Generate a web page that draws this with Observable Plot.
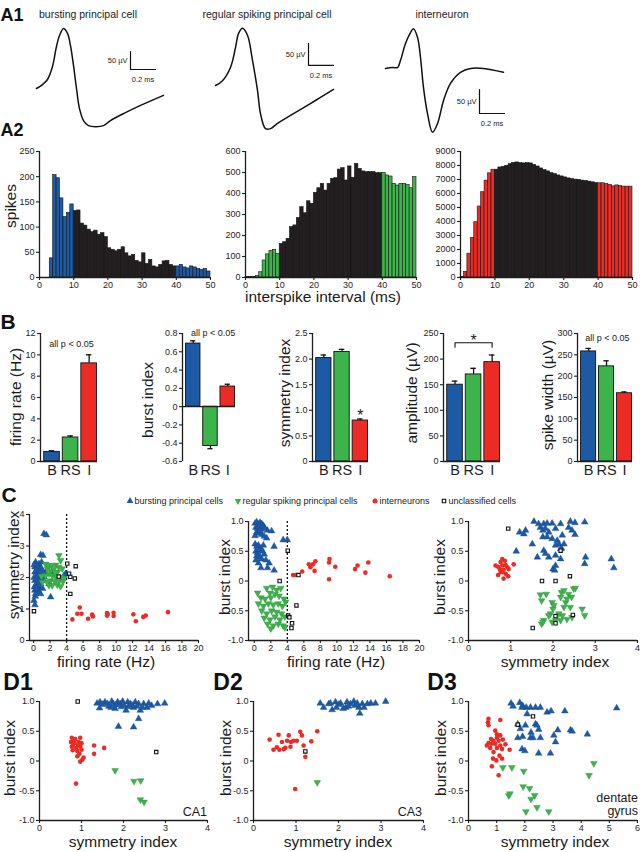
<!DOCTYPE html>
<html><head><meta charset="utf-8">
<script src="https://cdn.jsdelivr.net/npm/d3@7"></script>
<script src="https://cdn.jsdelivr.net/npm/@observablehq/plot@0.6"></script>
<style>
body{margin:0;background:#fff;}
#fig{position:relative;width:640px;height:852px;overflow:hidden;background:#fff;font-family:"Liberation Sans",Arial,Helvetica,sans-serif;}
#fig svg{position:absolute;}
</style></head>
<body><div id="fig"></div>
<script>
// ---------------- DATA ----------------
const cellTitles = ["bursting principal cell", "regular spiking principal cell", "interneuron"];
// waveforms: [time ms, voltage µV]
const waveBursting = [[0,0],[0.048,11],[0.088,25],[0.128,61],[0.16,117],[0.184,147],[0.216,167],[0.248,153],[0.272,119],[0.296,64],[0.32,0],[0.344,-56],[0.376,-89],[0.416,-103],[0.472,-106],[0.536,-103],[0.592,-89],[0.712,-67],[0.832,-47],[1.016,-19]];
const waveRegular = [[0,0],[0.056,11],[0.12,41],[0.16,86],[0.184,118],[0.216,130],[0.256,114],[0.296,57],[0.336,-11],[0.36,-64],[0.4,-98],[0.44,-98],[0.496,-86],[0.6,-68],[0.736,-45],[0.84,-27],[0.944,-9]];
const waveInter = [[0,0],[0.056,2],[0.096,2],[0.12,17],[0.16,52],[0.2,75],[0.224,83],[0.256,65],[0.28,23],[0.304,-40],[0.336,-94],[0.376,-133],[0.416,-115],[0.464,-67],[0.52,-31],[0.6,-8],[0.68,0],[0.784,0],[0.944,-8]];
const scaleBarLabels = ["50 µV", "0.2 ms"];

// ISI histograms, 1-ms bins from 0 to 50 ms
const isiTicks = [0,10,20,30,40,50];
const histBursting = [0,0,0,38,203,197,157,120,128,145, 132,133,107,103,95,90,93,85,88,80, 58,55,52,55,60,48,42,45,33,30, 48,27,35,22,20,25,32,33,25,22, 22,25,20,18,22,20,17,15,17,12];
const histRegular = [3,3,3,8,25,81,110,127,132,113, 160,168,184,240,248,283,335,306,363,351, 403,425,446,414,446,470,473,514,521,462, 529,475,541,517,505,502,502,502,497,497, 498,486,481,446,438,446,446,441,425,478];
const histInter = [50,400,1700,2820,3950,5070,6090,6920,7440,7700, 7700,7860,7910,7980,8100,8190,8220,8170,8150,8170, 8150,8050,7930,7790,7670,7580,7460,7390,7290,7220, 7150,7080,7030,6990,6960,6920,6890,6850,6800,6750, 6730,6730,6680,6610,6510,6580,6540,6490,6490,6490];

// B: group means and SEM
const groups = ["B", "RS", "I"];
const firingRate = [0.9, 2.25, 9.2],      firingRateErr = [0.1, 0.15, 0.8];
const burstIndex = [0.69, -0.43, 0.22],   burstIndexErr = [0.03, 0.03, 0.025];
const symmetryIdx = [2.02, 2.14, 0.8],    symmetryIdxErr = [0.06, 0.05, 0.03];
const amplitude = [150, 170, 194],        amplitudeErr = [7, 12, 14];
const spikeWidth = [258, 223, 160],       spikeWidthErr = [7, 13, 3];

// C: scatter [x, y]
const legendLabels = ["bursting principal cells", "regular spiking principal cells", "interneurons", "unclassified cells"];
const c1Bursting = [[1.25,3.39],[1.54,3.35],[0.85,2.72],[1.13,2.7],[0.24,2.49],[0.65,2.43],[0.16,2.33],[0.44,2.28],[0.85,2.33],[1.05,2.22],[0.16,2.17],[0.57,2.12],[0.85,2.06],[0.32,2.01],[0.65,1.96],[1.25,2.01],[0.16,1.9],[0.44,1.83],[0.85,1.8],[0.24,1.75],[0.65,1.69],[0.16,1.59],[0.57,1.53],[0.24,1.48],[0.85,1.48],[0.04,1.27],[0.16,1.13],[2.06,1.38],[1.86,1.8],[1.66,2.28],[2.46,2.17],[3.88,2.12],[3.68,2.06],[1.05,1.9],[1.45,2.12],[0.36,2.4],[0.97,2.49],[0.05,2.0],[0.1,1.7],[0.5,1.62],[0.3,2.2],[0.7,2.2],[0.05,2.4],[0.4,1.95],[0.9,2.15],[0.2,1.4],[0.6,1.75],[1.1,1.65],[0.3,1.65]];
const c1Regular = [[3.07,2.7],[1.45,2.43],[1.78,2.38],[2.18,2.38],[2.67,2.4],[3.07,2.33],[3.27,2.54],[1.66,2.28],[2.06,2.22],[2.46,2.28],[2.87,2.17],[3.47,2.28],[1.86,2.12],[2.26,2.06],[2.67,2.01],[3.27,2.01],[3.68,1.98],[1.45,2.06],[2.06,1.9],[2.59,1.87],[3.07,1.9],[3.56,1.87],[1.86,1.75],[2.26,1.75],[2.87,1.77],[3.27,1.72],[1.66,1.87],[0.97,2.04],[1.05,1.85],[2.59,2.17]];
const c1Inter = [[4.7,0.67],[5.3,0.85],[5.6,1.05],[5.8,0.85],[6.6,0.69],[7.1,0.82],[7.2,0.76],[8.9,0.87],[8.9,0.79],[9.0,0.84],[9.7,0.88],[9.7,0.78],[12.1,0.83],[12.4,0.61],[13.3,0.75],[13.6,0.79],[16.3,0.9]];
const c1Uncl = [[0.04,0.93],[4.08,2.44],[5.1,2.36],[3.05,2.03],[4.3,2.12],[4.45,2.02],[5.0,1.97],[4.45,1.48]];

const c2Bursting = [[0.1,0.97],[0.3,0.99],[0.5,0.95],[0.7,0.98],[0.9,0.96],[1.1,0.93],[0.2,0.9],[0.4,0.88],[0.6,0.92],[0.8,0.87],[1.0,0.9],[1.3,0.88],[1.6,0.85],[2.1,0.84],[0.3,0.82],[0.5,0.8],[0.9,0.78],[1.2,0.75],[0.1,0.76],[0.7,0.84],[1.5,0.72],[3.5,0.69],[4.0,0.69],[2.4,0.58],[0.1,0.62],[0.3,0.58],[0.5,0.6],[0.8,0.55],[0.2,0.5],[0.4,0.47],[0.6,0.52],[1.0,0.5],[1.2,0.45],[0.3,0.42],[0.7,0.4],[0.9,0.37],[1.4,0.35],[0.5,0.3],[1.8,0.3],[0.8,0.22],[1.6,0.22],[2.4,0.18],[0.2,0.35],[1.1,0.6]];
const c2Regular = [[0.4,-0.2],[1.5,-0.12],[2.2,-0.1],[2.7,-0.15],[3.2,-0.12],[1.9,-0.2],[2.5,-0.22],[0.8,-0.28],[1.3,-0.3],[2.0,-0.28],[3.0,-0.25],[3.6,-0.3],[0.5,-0.38],[1.1,-0.42],[1.7,-0.38],[2.3,-0.4],[2.9,-0.38],[3.4,-0.42],[3.8,-0.35],[0.9,-0.5],[1.5,-0.55],[2.1,-0.5],[2.7,-0.52],[3.3,-0.55],[1.2,-0.62],[1.9,-0.65],[2.5,-0.6],[3.1,-0.65],[3.7,-0.6],[1.6,-0.72],[2.3,-0.75],[2.9,-0.72],[3.5,-0.75],[2.0,-0.8],[3.7,-0.78]];
const c2Inter = [[4.7,0.10],[5.0,0.10],[5.8,0.16],[6.6,0.28],[7.1,0.28],[7.4,0.33],[6.8,0.23],[7.3,0.17],[9.1,0.37],[9.05,0.31],[9.8,0.24],[9.05,0.03],[12.2,0.2],[12.5,0.26],[13.45,0.14],[13.8,0.31],[16.4,0.08]];
const c2Uncl = [[4.05,0.51],[3.07,0.0],[5.35,0.1],[5.1,-0.41],[4.1,-0.58],[4.25,-0.61],[4.57,-0.71],[4.5,-0.79]];

const c3Bursting = [[1.55,1.0],[1.66,0.96],[1.78,0.96],[1.86,0.97],[1.98,0.97],[2.18,0.96],[2.41,1.0],[2.52,0.98],[2.75,0.99],[1.21,0.82],[1.35,0.85],[1.31,0.79],[1.7,0.9],[1.76,0.85],[1.82,0.88],[1.76,0.74],[1.86,0.74],[2.06,0.88],[1.98,0.71],[2.1,0.68],[2.14,0.62],[2.26,0.62],[2.2,0.55],[2.37,0.9],[2.45,0.85],[2.52,0.78],[1.51,0.62],[1.13,0.5],[1.63,0.4],[1.78,0.51],[1.82,0.46],[1.9,0.4],[2.06,0.43],[2.18,0.37],[2.0,0.2],[2.06,0.26],[2.04,0.18],[2.77,0.4],[2.75,0.29],[3.38,0.37],[3.44,0.22],[1.9,0.82],[2.22,0.77],[2.06,0.6],[2.18,0.54]];
const c3Regular = [[1.7,-0.23],[1.84,-0.22],[1.73,-0.33],[1.98,-0.36],[2.02,-0.41],[2.0,-0.47],[1.94,-0.55],[1.9,-0.58],[1.78,-0.66],[1.73,-0.72],[1.76,-0.69],[1.98,-0.69],[2.06,-0.66],[2.18,-0.66],[2.22,-0.58],[2.33,-0.64],[2.45,-0.61],[2.14,-0.55],[2.26,-0.44],[2.41,-0.44],[2.3,-0.36],[2.2,-0.19],[2.26,-0.16],[2.37,-0.22],[2.44,-0.27],[2.49,-0.13],[2.53,-0.12],[2.33,-0.3],[2.18,-0.27],[2.69,-0.47],[2.75,-0.58]];
const c3Inter = [[0.8,0.37],[0.76,0.32],[0.86,0.34],[0.64,0.26],[0.7,0.24],[0.8,0.26],[0.88,0.27],[0.92,0.23],[0.74,0.2],[0.83,0.19],[0.95,0.2],[1.07,0.28],[0.7,0.1],[0.83,0.04],[0.94,0.08],[0.8,0.15],[0.88,0.12],[0.76,0.15]];
const c3Uncl = [[0.94,0.88],[2.18,0.51],[1.74,0.0],[2.06,0.0],[2.4,0.08],[2.06,-0.59],[2.47,-0.57],[2.06,-0.71],[1.52,-0.79]];

// D: symmetry index vs burst index per region
const regionLabels = ["CA1", "CA3", "dentate\ngyrus"];
const d1Bursting = [[1.37,0.97],[1.44,0.99],[1.43,0.89],[1.56,0.99],[1.62,0.96],[1.72,1.0],[1.76,0.96],[1.8,0.88],[1.86,0.99],[1.92,0.96],[1.98,1.0],[2.02,0.93],[2.06,0.85],[2.1,0.99],[2.16,0.96],[2.24,0.9],[2.28,0.99],[2.36,0.96],[2.4,0.85],[2.48,0.96],[2.56,0.9],[2.67,0.93],[2.81,0.96],[2.98,0.97],[1.88,0.58],[2.24,0.57],[2.36,0.71],[1.65,0.92],[1.95,0.91],[2.2,0.94],[2.32,0.92],[1.5,0.95],[2.12,0.91],[1.7,0.9],[2.45,0.9],[2.6,0.97],[1.82,0.94]];
const d1Regular = [[1.8,-0.16],[2.25,-0.34],[2.41,-0.33],[2.4,-0.65],[2.49,-0.69]];
const d1Inter = [[0.77,0.39],[0.85,0.37],[0.97,0.39],[0.75,0.32],[0.83,0.3],[0.93,0.32],[0.77,0.24],[0.87,0.22],[0.97,0.24],[0.79,0.18],[0.9,0.17],[1.0,0.19],[0.9,0.08],[1.05,0.06],[0.97,-0.01],[1.02,0.02],[1.3,0.26],[1.3,0.12],[1.54,0.22],[0.87,-0.38],[0.8,0.28],[0.92,0.27],[0.82,0.35],[0.95,0.12],[1.0,0.3]];
const d1Uncl = [[0.91,1.0],[2.78,0.15]];

const d2Bursting = [[1.57,0.97],[1.77,0.96],[1.85,0.86],[1.93,0.99],[2.01,0.95],[2.11,0.88],[2.2,0.99],[2.28,0.96],[2.36,1.0],[2.48,0.9],[2.5,0.8],[2.56,0.96],[2.68,0.96],[2.87,0.97],[3.11,1.0],[1.65,0.9],[1.81,0.97],[2.05,0.97],[2.17,0.9],[2.39,0.93],[2.6,0.9],[2.76,0.97],[2.24,0.92],[1.95,0.9],[2.44,0.97]];
const d2Regular = [[1.5,-0.36]];
const d2Inter = [[0.38,0.36],[0.59,0.44],[0.83,0.43],[0.79,0.34],[0.67,0.32],[0.88,0.32],[0.94,0.34],[0.47,0.19],[0.61,0.19],[0.75,0.22],[0.87,0.24],[1.02,0.34],[1.1,0.49],[1.14,0.43],[1.18,0.26],[1.22,0.07],[1.36,0.33],[1.5,0.5],[0.98,-0.47],[0.71,0.2],[0.55,0.23]];
const d2Uncl = [[1.22,0.16]];

const d3Bursting = [[1.51,0.97],[1.82,0.98],[1.58,0.92],[1.92,0.93],[2.05,0.9],[2.2,0.9],[2.38,0.9],[2.55,0.9],[2.79,0.82],[2.93,0.84],[3.42,0.84],[5.26,0.89],[1.75,0.62],[1.84,0.54],[2.02,0.6],[2.38,0.62],[2.49,0.53],[1.75,0.39],[1.92,0.41],[2.2,0.39],[2.29,0.39],[2.55,0.39],[3.03,0.43],[3.17,0.52],[3.09,0.32],[3.62,0.52],[3.68,0.5],[4.22,0.45],[1.9,0.2],[2.0,0.17],[2.49,0.13],[2.91,0.13],[2.22,0.48],[1.9,0.9],[2.08,0.79],[2.43,0.6]];
const d3Regular = [[1.22,-0.11],[1.54,-0.11],[1.96,-0.17],[1.94,-0.43],[2.17,-0.46],[2.35,-0.58],[2.22,-0.64],[1.43,-0.58],[1.47,-0.55],[2.43,-0.78],[2.04,-0.85],[2.85,-0.85],[4.45,-0.04],[4.28,-0.24]];
const d3Inter = [[0.71,0.71],[0.69,0.65],[0.71,0.6],[1.13,0.69],[0.95,0.51],[1.01,0.45],[1.13,0.43],[0.8,0.37],[0.89,0.34],[1.07,0.34],[1.22,0.36],[0.71,0.3],[0.83,0.29],[0.95,0.29],[1.13,0.26],[1.31,0.28],[0.77,0.22],[1.01,0.22],[1.19,0.2],[1.46,0.19],[0.89,0.15],[1.1,0.09],[1.19,0.04],[0.87,0.04],[0.99,0.01],[0.83,-0.09],[1.07,-0.24],[0.65,0.26],[1.01,0.39]];
const d3Uncl = [[1.75,0.61],[2.29,0.75]];

// ---------------- STYLE / HELPERS ----------------
const FONT = '"Liberation Sans", Arial, Helvetica, sans-serif';
const BLUE = "#1d5aa6", GREEN = "#3cb44b", RED = "#ec2b25", BLACK = "#231f20", INK = "#1e1e1e";
const fig = document.getElementById("fig");
const baseStyle = {background: "transparent", overflow: "visible", fontFamily: FONT, color: INK};

function put(el, left, top) { el.style.left = left + "px"; el.style.top = top + "px"; fig.appendChild(el); }
function label(str, cx, cy, size, o = {}) {
  const d = document.createElement("div");
  d.textContent = str;
  const tx = o.anchor === "start" ? "0" : o.anchor === "end" ? "-100%" : "-50%";
  d.style.cssText = `position:absolute;left:${cx}px;top:${cy}px;font:${o.bold ? "bold " : ""}${size}px ${FONT};line-height:1;white-space:pre;text-align:${o.align||"center"};color:${o.color || "#1a1a1a"};transform:translate(${tx},-50%) rotate(${o.rotate || 0}deg);`;
  fig.appendChild(d);
}
const fmt1 = d => d === 0 ? "0" : d.toFixed(1);
const fmtInt = d => String(d);
const axisStyle = {tickSize: 3, fontSize: 9, label: null, strokeWidth: 1.1};

// ---------------- A1: waveforms ----------------
function wave(pts, o) {
  const w = 140, h = o.h;
  const p = Plot.plot({
    width: w, height: h, margin: 0, style: baseStyle,
    x: {domain: [o.t0, o.t0 + w / 125], axis: null}, y: {domain: [o.vb, o.vt], axis: null},
    marks: [
      Plot.line(pts, {x: d => d[0], y: d => d[1], stroke: "#111", strokeWidth: 1.5, curve: "catmull-rom"}),
      Plot.line([[o.bar[0], o.bar[1] + 50], [o.bar[0], o.bar[1]], [o.bar[0] + 0.2, o.bar[1]]], {x: d => d[0], y: d => d[1], stroke: "#111", strokeWidth: 1.2}),
      Plot.text([scaleBarLabels[0]], {x: o.bar[0], y: o.bar[1] + 25, text: d => d, textAnchor: "end", dx: -3, fontSize: 7.5, fill: "#222"}),
      Plot.text([scaleBarLabels[1]], {x: o.bar[0] + 0.1, y: o.bar[1], text: d => d, dy: 10, fontSize: 7.5, fill: "#222"})
    ]
  });
  put(p, o.left, o.top);
}
wave(waveBursting, {left: 30, top: 24, h: 108, t0: -0.048, vt: 177.8, vb: -122.2, bar: [0.752, 52.8]});
wave(waveRegular, {left: 205, top: 24, h: 108, t0: -0.08, vt: 138.6, vb: -106.8, bar: [0.744, 45.5]});
wave(waveInter, {left: 375, top: 24, h: 110, t0: -0.08, vt: 91.7, vb: -137.5, bar: [0.752, -93.75]});
label(cellTitles[0], 88, 14, 10.5, {color: "#222"});
label(cellTitles[1], 267, 14, 10.5, {color: "#222"});
label(cellTitles[2], 442, 14, 10.5, {color: "#222"});

// ---------------- A2: histograms ----------------
function hist(values, color, o) {
  const ml = 30, mr = 6, mt = 6, mb = 16;
  const data = values.map((v, i) => ({x1: i, x2: i + 1, v, c: (i < 10 || i >= 40) ? color : BLACK}));
  const p = Plot.plot({
    width: o.w + ml + mr, height: o.h + mt + mb, marginLeft: ml, marginRight: mr, marginTop: mt, marginBottom: mb,
    style: baseStyle, x: {domain: [0, 50]}, y: {domain: [0, o.ymax]}, color: {type: "identity"},
    marks: [
      Plot.rectY(data, {x1: "x1", x2: "x2", y: "v", fill: "c", stroke: "#151515", strokeWidth: 0.6}),
      Plot.ruleX([0], {stroke: INK, strokeWidth: 1.3}),
      Plot.ruleY([0], {stroke: INK, strokeWidth: 1.3}),
      Plot.axisX({...axisStyle, ticks: isiTicks, tickFormat: fmtInt, tickPadding: 1}),
      Plot.axisY({...axisStyle, ticks: o.yticks, tickFormat: fmtInt, tickPadding: 2})
    ]
  });
  put(p, o.left - ml, o.top - mt);
}
hist(histBursting, BLUE, {left: 39, top: 151, w: 171, h: 126, ymax: 250, yticks: d3.range(0, 251, 50)});
hist(histRegular, GREEN, {left: 245, top: 151, w: 171, h: 126, ymax: 600, yticks: d3.range(0, 601, 100)});
hist(histInter, RED, {left: 460, top: 151, w: 172, h: 126, ymax: 9000, yticks: d3.range(0, 9001, 1000)});
label("spikes", 11, 206, 15.5, {rotate: -90});
label("interspike interval (ms)", 323, 297, 15.5);

// ---------------- B: bar charts ----------------
function bars(vals, errs, o) {
  const ml = 30, mr = 4, mt = 8, mb = 24;
  const data = groups.map((g, i) => ({i, v: vals[i], e: vals[i] + Math.sign(vals[i]) * errs[i], c: [BLUE, GREEN, RED][i]}));
  const marks = [
    Plot.ruleX(data, {x: "i", y1: "v", y2: "e", stroke: "#111", strokeWidth: 1.3}),
    Plot.ruleY(data, {y: "e", x1: d => d.i - 0.15, x2: d => d.i + 0.15, stroke: "#111", strokeWidth: 1.3}),
    Plot.rectY(data, {x1: d => d.i - 0.42, x2: d => d.i + 0.42, y1: 0, y2: "v", fill: "c", stroke: "#111", strokeWidth: 0.9}),
    Plot.ruleX([-0.62], {stroke: INK, strokeWidth: 1.3}),
    Plot.ruleY([0], {stroke: INK, strokeWidth: 1.3}),
    Plot.axisY({...axisStyle, ticks: o.yticks, tickFormat: o.yfmt, tickPadding: 2}),
    Plot.axisX({ticks: [0, 1, 2], tickFormat: i => groups[i], tickSize: 0, tickPadding: 3, fontSize: 14.5, label: null})
  ];
  if (o.extra) marks.push(...o.extra);
  const p = Plot.plot({
    width: o.w + ml + mr, height: o.h + mt + mb, marginLeft: ml, marginRight: mr, marginTop: mt, marginBottom: mb,
    style: baseStyle, color: {type: "identity"},
    x: {domain: [-0.62, 2.45]}, y: {domain: o.ydom},
    marks
  });
  put(p, o.left - ml, o.top - mt);
}
const sigText = ["all p < 0.05", "*"];
const ampBracket = [[0, 223], [0, 232], [2, 232], [2, 223]];
bars(firingRate, firingRateErr, {left: 40, top: 333, w: 57, h: 128, ydom: [0, 12], yticks: d3.range(0, 13, 2), yfmt: fmtInt,
  extra: [Plot.text([sigText[0]], {x: 1.05, y: 11, text: d => d, fontSize: 9, fill: "#222"})]});
bars(burstIndex, burstIndexErr, {left: 182, top: 333, w: 53, h: 128, ydom: [-0.6, 0.8], yticks: [-0.6,-0.4,-0.2,0,0.2,0.4,0.6,0.8], yfmt: fmt1,
  extra: [Plot.text([sigText[0]], {x: 1.15, y: 0.8, text: d => d, fontSize: 9, fill: "#222"})]});
bars(symmetryIdx, symmetryIdxErr, {left: 312, top: 333, w: 56, h: 128, ydom: [0, 2.5], yticks: [0,0.5,1,1.5,2,2.5], yfmt: fmt1,
  extra: [Plot.text([sigText[1]], {x: 2, y: 0.9, text: d => d, fontSize: 16, fill: "#222"})]});
bars(amplitude, amplitudeErr, {left: 443, top: 333, w: 57, h: 128, ydom: [0, 250], yticks: d3.range(0, 251, 50), yfmt: fmtInt,
  extra: [Plot.line(ampBracket, {x: d => d[0], y: d => d[1], stroke: "#111", strokeWidth: 1.1}),
          Plot.text([sigText[1]], {x: 1, y: 236, text: d => d, fontSize: 16, fill: "#222"})]});
bars(spikeWidth, spikeWidthErr, {left: 577, top: 333, w: 55, h: 128, ydom: [0, 300], yticks: d3.range(0, 301, 50), yfmt: fmtInt,
  extra: [Plot.text([sigText[0]], {x: 1.05, y: 290, text: d => d, fontSize: 9, fill: "#222"})]});
label("firing rate (Hz)", 16, 397, 15.5, {rotate: -90});
label("burst index", 148, 400, 15.5, {rotate: -90});
label("symmetry index", 285, 393, 15.5, {rotate: -90});
label("amplitude (µV)", 412, 393, 15.5, {rotate: -90});
label("spike width (µV)", 548, 395, 15.5, {rotate: -90});

// ---------------- C & D: scatter plots ----------------
function scatter(sets, o) {
  const ml = 30, mr = 6, mt = 6, mb = 18;
  const xy = {x: d => d[0], y: d => d[1]};
  const marks = [];
  if (o.dashX != null) marks.push(Plot.ruleX([o.dashX], {stroke: "#111", strokeWidth: 1.3, strokeDasharray: "2,2"}));
  marks.push(
    Plot.dot(sets[0], {...xy, symbol: "triangle", r: 2.5, fill: BLUE, stroke: "#174a8a", strokeWidth: 0.4}),
    Plot.dot(sets[1], {...xy, symbol: "triangle", rotate: 180, r: 2.5, fill: GREEN, stroke: "#2e8f3b", strokeWidth: 0.4}),
    Plot.dot(sets[2], {...xy, symbol: "circle", r: 2.3, fill: RED, stroke: "none"}),
    Plot.dot(sets[3], {...xy, symbol: "square", r: 1.9, fill: "#fff", stroke: "#111", strokeWidth: 1.1}),
    Plot.ruleX([o.xdom[0]], {stroke: INK, strokeWidth: 1.3}),
    Plot.ruleY([o.ydom[0]], {stroke: INK, strokeWidth: 1.3}),
    Plot.axisX({...axisStyle, ticks: o.xticks, tickFormat: fmtInt, tickPadding: 1}),
    Plot.axisY({...axisStyle, ticks: o.yticks, tickFormat: o.yfmt, tickPadding: 2})
  );
  const p = Plot.plot({
    width: o.w + ml + mr, height: o.h + mt + mb, marginLeft: ml, marginRight: mr, marginTop: mt, marginBottom: mb,
    style: baseStyle, x: {domain: o.xdom}, y: {domain: o.ydom}, marks
  });
  put(p, o.left - ml, o.top - mt);
}
const biTicks = [-1, -0.5, 0, 0.5, 1];
scatter([c1Bursting, c1Regular, c1Inter, c1Uncl], {left: 29, top: 514, w: 169, h: 126, xdom: [-0.5, 20], ydom: [0, 4], xticks: d3.range(0, 21, 2), yticks: [0,1,2,3,4], yfmt: fmtInt, dashX: 4});
scatter([c2Bursting, c2Regular, c2Inter, c2Uncl], {left: 248, top: 521, w: 171, h: 119, xdom: [-0.7, 20], ydom: [-1, 1], xticks: d3.range(0, 21, 2), yticks: biTicks, yfmt: fmt1, dashX: 4});
scatter([c3Bursting, c3Regular, c3Inter, c3Uncl], {left: 468, top: 521, w: 169, h: 119, xdom: [0, 4], ydom: [-1, 1], xticks: [0,1,2,3,4], yticks: biTicks, yfmt: fmt1});
scatter([d1Bursting, d1Regular, d1Inter, d1Uncl], {left: 39, top: 701, w: 168, h: 119, xdom: [0, 4], ydom: [-1, 1], xticks: [0,1,2,3,4], yticks: biTicks, yfmt: fmt1});
scatter([d2Bursting, d2Regular, d2Inter, d2Uncl], {left: 253, top: 701, w: 170, h: 119, xdom: [0, 4], ydom: [-1, 1], xticks: [0,1,2,3,4], yticks: biTicks, yfmt: fmt1});
scatter([d3Bursting, d3Regular, d3Inter, d3Uncl], {left: 468, top: 701, w: 169, h: 119, xdom: [0, 6], ydom: [-1, 1], xticks: [0,1,2,3,4,5,6], yticks: biTicks, yfmt: fmt1});

label("firing rate (Hz)", 106, 662, 15.5);
label("firing rate (Hz)", 336, 662, 15.5);
label("symmetry index", 555, 662, 15.5);
label("symmetry index", 14, 565, 15.5, {rotate: -90});
label("burst index", 225, 577, 15.5, {rotate: -90});
label("burst index", 440, 577, 15.5, {rotate: -90});
label("symmetry index", 123, 842, 15.5);
label("symmetry index", 338, 842, 15.5);
label("symmetry index", 555, 842, 15.5);
label("burst index", 10, 758, 15.5, {rotate: -90});
label("burst index", 226, 758, 15.5, {rotate: -90});
label("burst index", 441, 758, 15.5, {rotate: -90});
label(regionLabels[0], 207, 812, 12.5, {anchor: "end"});
label(regionLabels[1], 422, 812, 12.5, {anchor: "end"});
label(regionLabels[2], 638, 804, 12.5, {anchor: "end", align: "right"});

// legend
(function legend() {
  const svg = d3.create("svg").attr("width", 640).attr("height", 14);
  const items = [
    {x: 130, sym: d3.symbolTriangle, rot: 0, fill: BLUE, stroke: "none"},
    {x: 238, sym: d3.symbolTriangle, rot: 180, fill: GREEN, stroke: "none"},
    {x: 375, sym: d3.symbolCircle, rot: 0, fill: RED, stroke: "none"},
    {x: 444, sym: d3.symbolSquare, rot: 0, fill: "#fff", stroke: "#111"}
  ];
  items.forEach((it, i) => {
    const g = svg.append("g").attr("transform", `translate(${it.x},7) rotate(${it.rot})`);
    g.append("path").attr("d", d3.symbol(it.sym, i === 3 ? 12 : 20)()).attr("fill", it.fill).attr("stroke", it.stroke).attr("stroke-width", 1.1);
    svg.append("text").attr("x", it.x + 4.5).attr("y", 10.2).attr("font-family", FONT).attr("font-size", 9).attr("fill", "#222").text(legendLabels[i]);
  });
  put(svg.node(), 0, 494);
})();

// panel letters
label("A1", 12, 15, 18, {bold: true, color: "#111"});
label("A2", 12, 130, 18, {bold: true, color: "#111"});
label("B", 8, 321, 21, {bold: true, color: "#111"});
label("C", 9, 494, 21, {bold: true, color: "#111"});
label("D1", 18, 682, 23, {bold: true, color: "#111"});
label("D2", 228, 682, 23, {bold: true, color: "#111"});
label("D3", 442, 682, 23, {bold: true, color: "#111"});
</script></body></html>
